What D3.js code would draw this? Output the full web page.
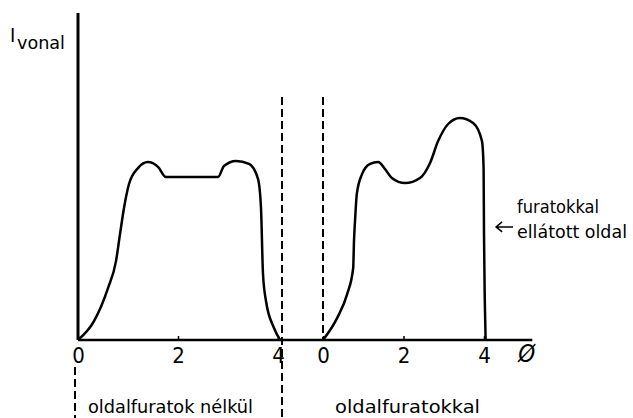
<!DOCTYPE html>
<html>
<head>
<meta charset="utf-8">
<script src="https://cdn.jsdelivr.net/npm/d3@7"></script>
<style>
  body { margin: 0; background: #fff; }
  svg { display: block; }
  text { fill: #000; font-family: "DejaVu Sans Condensed", "DejaVu Sans", sans-serif; }
  .axis path { display: none; }
  .axis line { stroke: #000; stroke-width: 1.5; }
  .axis text { font-size: 22px; }
</style>
</head>
<body>
<script>
// intensity profile, left: without side bores (x = distance, I = relative)
const noBoreX = [0, 0.32, 0.6, 0.76, 0.84, 0.92, 1.02, 1.2, 1.4, 1.6, 1.76, 2.28, 2.8, 2.92, 3.16, 3.42, 3.6, 3.66, 3.7, 3.76, 3.92, 4.04];
const noBoreI = [0, 6.3, 17.3, 26.3, 35.3, 44, 52, 57.3, 59.3, 57.7, 54.3, 54.3, 54.3, 58, 59.7, 58.7, 53.7, 44, 22, 13, 4, 0];

// right: with side bores
const boreX = [0, 0.35, 0.6, 0.75, 0.77, 0.8, 0.84, 0.97, 1.17, 1.37, 1.54, 1.71, 2.04, 2.41, 2.66, 2.86, 3.11, 3.4, 3.73, 3.95, 3.99, 4.0, 4.02, 4.04];
const boreI = [0, 7.3, 15.3, 24, 33, 40.7, 48.7, 55.3, 58.7, 59.3, 57, 54, 52.3, 54, 59, 66.3, 72, 74, 72.3, 66.3, 57.3, 35.3, 13, 0];

const xTicks = [0, 2, 4];

const width = 633;
const height = 418;

const svg = d3.select("body")
    .append("svg")
    .attr("width", width)
    .attr("height", height);

const xLeft = d3.scaleLinear().domain([0, 4]).range([78, 278]);
const xRight = d3.scaleLinear().domain([0, 4]).range([323, 484]);
const y = d3.scaleLinear().domain([0, 100]).range([340, 40]);

const line = (xs) => d3.line()
    .x(d => xs(d[0]))
    .y(d => y(d[1]))
    .curve(d3.curveMonotoneX);

// axes lines
svg.append("line")
    .attr("x1", xLeft(0)).attr("x2", xLeft(0))
    .attr("y1", y(109)).attr("y2", y(0))
    .attr("stroke", "#000").attr("stroke-width", 3);

svg.append("line")
    .attr("x1", xLeft(0)).attr("x2", xRight(5.2))
    .attr("y1", y(0)).attr("y2", y(0))
    .attr("stroke", "#000").attr("stroke-width", 2.5);

svg.append("g")
    .attr("class", "axis")
    .attr("transform", `translate(0,${y(0)})`)
    .call(d3.axisBottom(xLeft).tickValues(xTicks).tickFormat(d3.format("d"))
        .tickSizeInner(-4).tickSizeOuter(0).tickPadding(7));

svg.append("g")
    .attr("class", "axis")
    .attr("transform", `translate(0,${y(0)})`)
    .call(d3.axisBottom(xRight).tickValues(xTicks).tickFormat(d3.format("d"))
        .tickSizeInner(-4).tickSizeOuter(0).tickPadding(7));

// dashed separators
const dash = (x1, y1, y2) => svg.append("line")
    .attr("x1", x1).attr("x2", x1)
    .attr("y1", y1).attr("y2", y2)
    .attr("stroke", "#000")
    .attr("stroke-width", 2)
    .attr("stroke-dasharray", "8,4");

dash(xLeft(4.08), y(81), height);
dash(xRight(0), y(81), y(0));
dash(xLeft(-0.06), y(-9), height);

// curves
svg.append("path")
    .datum(d3.zip(noBoreX, noBoreI))
    .attr("d", line(xLeft))
    .attr("fill", "none")
    .attr("stroke", "#000")
    .attr("stroke-width", 2.5);

svg.append("path")
    .datum(d3.zip(boreX, boreI))
    .attr("d", line(xRight))
    .attr("fill", "none")
    .attr("stroke", "#000")
    .attr("stroke-width", 2.5);

// labels
svg.append("text")
    .attr("x", 10)
    .attr("y", 42)
    .style("font-size", "20px")
    .text("I");
svg.append("text")
    .attr("x", 17)
    .attr("y", 49)
    .attr("textLength", 48)
    .attr("lengthAdjust", "spacingAndGlyphs")
    .style("font-size", "17px")
    .text("vonal");

svg.append("text")
    .attr("x", xRight(4.85))
    .attr("y", y(-7.3))
    .style("font-size", "24px")
    .style("font-style", "italic")
    .text("Ø");

const label = (x, yy, len, str) => svg.append("text")
    .attr("x", x)
    .attr("y", yy)
    .attr("textLength", len)
    .attr("lengthAdjust", "spacingAndGlyphs")
    .style("font-size", "18px")
    .text(str);

label(88, 413, 165, "oldalfuratok nélkül");
label(335, 413, 145, "oldalfuratokkal");
label(517, 213, 82, "furatokkal");
label(517, 238, 110, "ellátott oldal");

// arrow pointing at the curve
const ax = xRight(4.3), ay = y(37.7);
svg.append("path")
    .attr("d", `M${ax + 17},${ay}H${ax}M${ax + 6},${ay - 5}L${ax},${ay}L${ax + 6},${ay + 5}`)
    .attr("fill", "none")
    .attr("stroke", "#000")
    .attr("stroke-width", 1.5);
</script>
</body>
</html>
